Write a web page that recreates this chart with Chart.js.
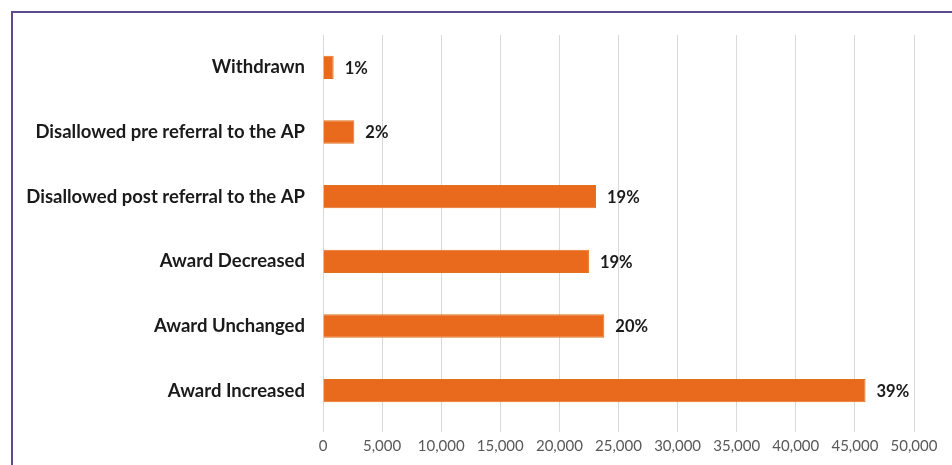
<!DOCTYPE html>
<html>
<head>
<meta charset="utf-8">
<script src="https://cdn.jsdelivr.net/npm/chart.js@4"></script>
<style>
    html, body { margin: 0; padding: 0; background: #fff; }
    #frame {
        position: absolute; left: 11px; top: 11px; right: 0; bottom: 0;
        border-top: 2px solid #5f4a8b; border-left: 2px solid #5f4a8b;
    }
    #wrap { position: absolute; left: 0; top: 0; width: 952px; height: 465px; }
</style>
</head>
<body>
<div id="frame"></div>
<div id="wrap"><canvas id="chart"></canvas></div>
<script>
// Datos del gráfico
const categories = [
    'Withdrawn',
    'Disallowed pre referral to the AP',
    'Disallowed post referral to the AP',
    'Award Decreased',
    'Award Unchanged',
    'Award Increased'
];
const counts = [900, 2650, 23100, 22500, 23800, 45900];
const shares = ['1%', '2%', '19%', '19%', '20%', '39%'];
const xTicks = [0, 5000, 10000, 15000, 20000, 25000, 30000, 35000, 40000, 45000, 50000];

// Etiquetas de porcentaje al final de cada barra
const shareLabels = {
    id: 'shareLabels',
    afterDatasetsDraw(chart) {
        const ctx = chart.ctx;
        const meta = chart.getDatasetMeta(0);
        ctx.save();
        ctx.font = 'bold 16.5px Lato';
        ctx.fillStyle = '#1a1a1a';
        ctx.textAlign = 'left';
        ctx.textBaseline = 'middle';
        meta.data.forEach((bar, i) => {
            ctx.fillText(shares[i], bar.x + 11, bar.y + 1);
        });
        ctx.restore();
    }
};

const ctx = document.getElementById('chart').getContext('2d');
const chart = new Chart(ctx, {
    type: 'bar',
    data: {
        labels: categories,
        datasets: [{
            data: counts,
            backgroundColor: '#e96a1c',
            borderColor: '#e2711f',
            borderWidth: 1,
            barPercentage: 0.72,
            categoryPercentage: 0.5
        }]
    },
    options: {
        indexAxis: 'y',
        responsive: true,
        maintainAspectRatio: false,
        animation: false,
        layout: { padding: { left: 0, right: 38, top: 35, bottom: 0 } },
        plugins: {
            legend: { display: false },
            tooltip: { enabled: false }
        },
        scales: {
            x: {
                min: 0,
                max: 50000,
                afterBuildTicks: (scale) => {
                    scale.ticks = xTicks.map(v => ({ value: v }));
                },
                afterFit: (scale) => { scale.height = 42; },
                grid: {
                    color: '#d9d9d9',
                    lineWidth: 1,
                    drawTicks: true,
                    tickLength: 9,
                    tickColor: '#d9d9d9'
                },
                border: { display: false },
                ticks: {
                    padding: 5,
                    color: '#595959',
                    font: { family: 'Lato', size: 15 },
                    callback: (v) => Number(v).toLocaleString('en-US')
                }
            },
            y: {
                afterFit: (scale) => { scale.width = 323; },
                grid: { display: false },
                border: { display: false },
                ticks: {
                    padding: 10,
                    color: '#1a1a1a',
                    font: { family: 'Lato', size: 18.5, weight: 'bold' }
                }
            }
        }
    },
    plugins: [shareLabels]
});
</script>
</body>
</html>
